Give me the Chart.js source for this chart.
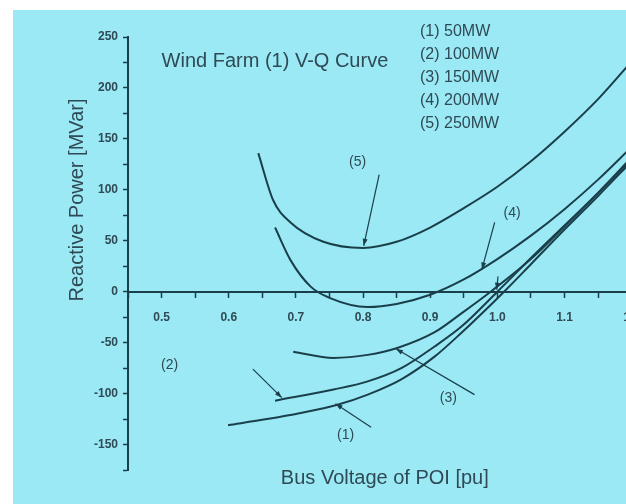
<!DOCTYPE html>
<html>
<head>
<meta charset="utf-8">
<script src="https://cdn.jsdelivr.net/npm/chart.js@4.4.1/dist/chart.umd.min.js"></script>
<style>
  html, body { margin: 0; padding: 0; background: #fff; overflow: hidden; width: 626px; height: 504px; }
  #wrap { position: absolute; left: 13px; top: 10px; width: 641px; height: 494px; background: #9ae9f5; }
  canvas { display: block; }
</style>
</head>
<body>
<div id="wrap"><canvas id="vqChart" width="641" height="494"></canvas></div>
<script>
// series: bus voltage [pu] vs reactive power [MVar]
const seriesNames = ['(1) 50MW', '(2) 100MW', '(3) 150MW', '(4) 200MW', '(5) 250MW'];
const curveLabels = ['(1)', '(2)', '(3)', '(4)', '(5)'];

const v1 = [0.599, 0.657, 0.707, 0.762, 0.807, 0.857, 0.906, 0.947, 1.01, 1.05, 1.1, 1.15, 1.2];
const q1 = [-131, -125, -119, -111, -101, -86, -64, -40, 0, 27, 61, 94, 128];

const v2 = [0.669, 0.756, 0.807, 0.857, 0.906, 0.947, 1.0, 1.05, 1.1, 1.15, 1.2];
const q2 = [-107, -96, -88, -75, -54, -34, 0, 33, 65, 97, 130];

const v3 = [0.696, 0.756, 0.807, 0.852, 0.906, 0.947, 0.99, 1.05, 1.1, 1.15, 1.2];
const q3 = [-59, -65, -62, -55, -40, -21, 0, 32, 64, 97, 132];

const v4 = [0.669, 0.692, 0.722, 0.75, 0.807, 0.85, 0.9, 0.95, 1.0, 1.05, 1.1, 1.15, 1.2];
const q4 = [63, 31, 5, -6, -15, -12, -3, 12, 32, 55, 81, 110, 142];

const v5 = [0.644, 0.666, 0.692, 0.741, 0.8, 0.85, 0.9, 0.95, 1.0, 1.05, 1.1, 1.15, 1.2];
const q5 = [136, 90, 68, 49, 43, 49, 63, 82, 103, 128, 157, 189, 226];

const xTickLabels = ['0.5', '0.6', '0.7', '0.8', '0.9', '1.0', '1.1', '1.2'];
const yTickLabels = ['-150', '-100', '-50', '0', '50', '100', '150', '200', '250'];

// callouts: label spot and arrow, in data units
const callouts = [
  { text: curveLabels[4], at: [0.792, 127], from: [0.824, 115], to: [0.801, 45] },
  { text: curveLabels[3], at: [1.022, 77], from: [0.996, 68], to: [0.977, 22] },
  { text: curveLabels[2], at: [0.927, -104], from: [0.966, -101], to: [0.849, -56] },
  { text: curveLabels[0], at: [0.774, -141], from: [0.812, -133], to: [0.759, -110] },
  { text: curveLabels[1], at: [0.512, -72], from: [0.636, -76], to: [0.679, -104] },
  { text: '', at: [1.0, 0], from: [1.001, 15], to: [0.999, 2] },
];

const INK = '#1a3f4a';
const TEXT = '#2f4a54';
const FONT = '"Liberation Sans", Arial, sans-serif';

function toPoints(xs, ys) {
  return xs.map((x, i) => ({ x, y: ys[i] }));
}

function makeSet(name, xs, ys) {
  return {
    label: name,
    data: toPoints(xs, ys),
    borderColor: INK,
    borderWidth: 2,
    pointRadius: 0,
    cubicInterpolationMode: 'monotone',
    fill: false,
  };
}

function drawArrow(ctx, x0, y0, x1, y1) {
  ctx.beginPath();
  ctx.moveTo(x0, y0);
  ctx.lineTo(x1, y1);
  ctx.stroke();
  const a = Math.atan2(y1 - y0, x1 - x0);
  const len = 7, half = 2.5;
  ctx.beginPath();
  ctx.moveTo(x1, y1);
  ctx.lineTo(x1 - len * Math.cos(a) + half * Math.sin(a), y1 - len * Math.sin(a) - half * Math.cos(a));
  ctx.lineTo(x1 - len * Math.cos(a) - half * Math.sin(a), y1 - len * Math.sin(a) + half * Math.cos(a));
  ctx.closePath();
  ctx.fill();
}

const textPlugin = {
  id: 'vqText',
  afterDraw(chart) {
    const { ctx, chartArea, scales } = chart;
    const xs = scales.x, ys = scales.y;
    ctx.save();
    ctx.fillStyle = TEXT;
    ctx.textBaseline = 'middle';

    // title in the plot
    ctx.font = '20px ' + FONT;
    ctx.textAlign = 'left';
    ctx.fillText('Wind Farm (1) V-Q Curve', xs.getPixelForValue(0.5), ys.getPixelForValue(226));

    // legend list
    ctx.font = '16px ' + FONT;
    seriesNames.forEach((name, i) => {
      ctx.fillText(name, chartArea.left + 292, 22 + i * 23);
    });

    // axis titles
    ctx.font = '20px ' + FONT;
    ctx.textAlign = 'center';
    ctx.fillText('Bus Voltage of POI [pu]', (chartArea.left + chartArea.right) / 2 + 5, 468);
    ctx.save();
    ctx.translate(64, ys.getPixelForValue(90));
    ctx.rotate(-Math.PI / 2);
    ctx.font = '20px ' + FONT;
    ctx.fillText('Reactive Power [MVar]', 0, 0);
    ctx.restore();

    // curve callouts
    ctx.font = '14px ' + FONT;
    ctx.strokeStyle = INK;
    ctx.lineWidth = 1.2;
    callouts.forEach((c) => {
      ctx.fillStyle = TEXT;
      if (c.text) ctx.fillText(c.text, xs.getPixelForValue(c.at[0]), ys.getPixelForValue(c.at[1]));
      ctx.fillStyle = INK;
      drawArrow(ctx,
        xs.getPixelForValue(c.from[0]), ys.getPixelForValue(c.from[1]),
        xs.getPixelForValue(c.to[0]), ys.getPixelForValue(c.to[1]));
    });
    ctx.restore();
  },
};

new Chart(document.getElementById('vqChart'), {
  type: 'line',
  data: {
    datasets: [
      makeSet(seriesNames[0], v1, q1),
      makeSet(seriesNames[1], v2, q2),
      makeSet(seriesNames[2], v3, q3),
      makeSet(seriesNames[3], v4, q4),
      makeSet(seriesNames[4], v5, q5),
    ],
  },
  options: {
    responsive: false,
    animation: false,
    layout: { padding: { top: 27, right: 12, left: 0, bottom: 34 } },
    plugins: {
      legend: { display: false },
      tooltip: { enabled: false },
    },
    scales: {
      x: {
        type: 'linear',
        position: { y: 0 },
        min: 0.45,
        max: 1.2,
        border: { display: true, color: INK, width: 2 },
        grid: { drawOnChartArea: false, drawTicks: true, tickLength: 5, tickColor: INK, tickWidth: 1.5 },
        ticks: {
          stepSize: 0.05,
          autoSkip: false,
          maxRotation: 0,
          padding: 14,
          color: TEXT,
          font: { family: FONT, size: 12, weight: 'bold' },
          callback(val) {
            const k = Math.round(val * 100);
            return k % 10 === 0 ? xTickLabels[k / 10 - 5] ?? '' : '';
          },
        },
      },
      y: {
        type: 'linear',
        position: 'left',
        min: -175,
        max: 250,
        afterFit(scale) { scale.width = 115; },
        border: { display: true, color: INK, width: 2 },
        grid: { drawOnChartArea: false, drawTicks: true, tickLength: 5, tickColor: INK, tickWidth: 1.5 },
        ticks: {
          stepSize: 25,
          autoSkip: false,
          padding: 5,
          color: TEXT,
          font: { family: FONT, size: 12, weight: 'bold' },
          callback(val) {
            const k = Math.round(val);
            return k % 50 === 0 ? yTickLabels[(k + 150) / 50] ?? '' : '';
          },
        },
      },
    },
  },
  plugins: [textPlugin],
});
</script>
</body>
</html>
